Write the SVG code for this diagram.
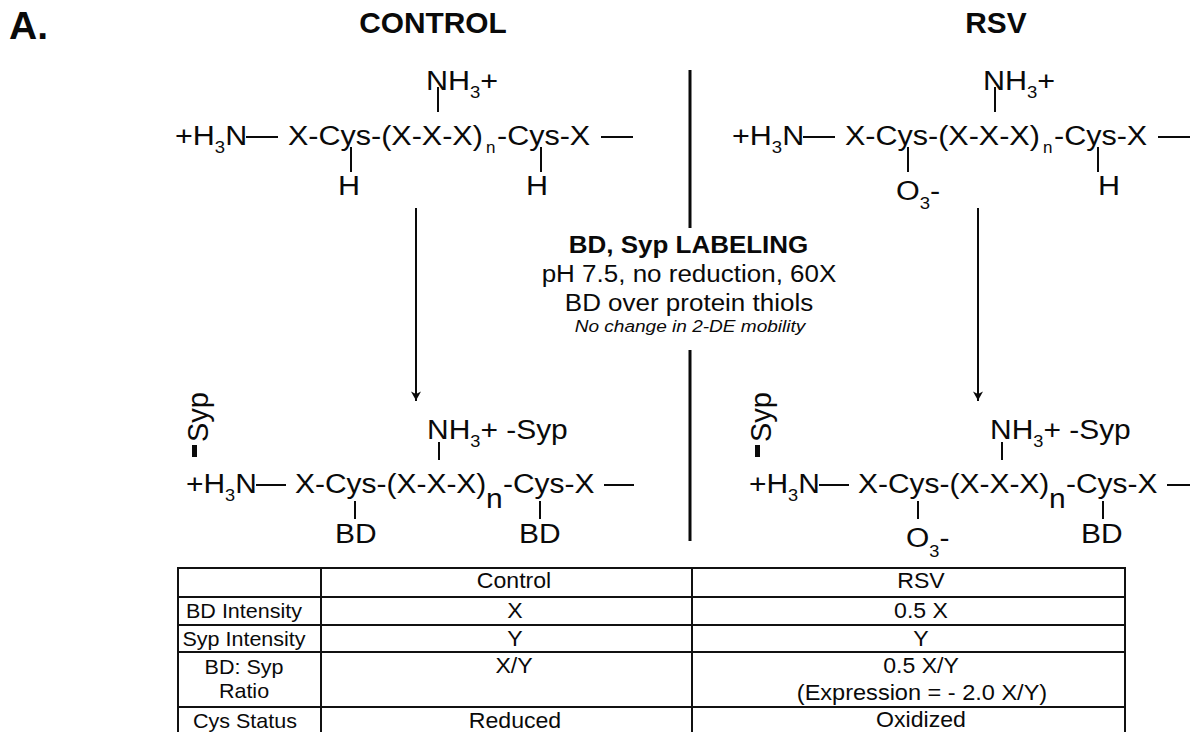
<svg xmlns="http://www.w3.org/2000/svg" width="1190" height="732" viewBox="0 0 1190 732">
<style>
text{font-family:"Liberation Sans",Arial,sans-serif;fill:#0a0a0a}
.f{font-size:28px}
.s{font-size:17px}
.h{font-size:29px;font-weight:bold;text-anchor:middle}
.c{text-anchor:middle;font-size:23px}
.t{font-size:20.5px;text-anchor:middle}
.u{font-size:22px;text-anchor:middle}
.l{stroke:#0a0a0a;stroke-width:2;fill:none}
.v{stroke:#0a0a0a;stroke-width:3;fill:none}
.g{stroke:#111;stroke-width:2;fill:none}
</style>
<defs>
<marker id="a" markerWidth="14" markerHeight="14" refX="11" refY="7" orient="auto" markerUnits="userSpaceOnUse"><path d="M1.500 2L10.500 7L1.500 12L4 7Z" fill="#0a0a0a"/></marker>
<g id="top">
<text class="f" transform="translate(175 145) scale(1.09 1)">+H<tspan class="s" dy="8">3</tspan><tspan dy="-8">N</tspan></text>
<path class="l" d="M246 137H278M601 137H633M351 147V172M541 147V172M438 87V112"/>
<text class="f" transform="translate(288 145) scale(1.09 1)">X-Cys-(X-X-X)</text>
<text class="s" x="486" y="153">n</text>
<text class="f" transform="translate(497 145) scale(1.09 1)">-Cys-X</text>
<text class="f" transform="translate(426 90) scale(1.09 1)">NH<tspan class="s" dy="8">3</tspan><tspan dy="-8">+</tspan></text>
</g>
<g id="bot">
<text class="f" transform="translate(186 493) scale(1.07 1)">+H<tspan class="s" dy="8">3</tspan><tspan dy="-8">N</tspan></text>
<path class="l" d="M256 485H286M604 485H634M355 501V519M540 501V519M439 442V460"/>
<text class="f" transform="translate(295 493) scale(1.07 1)">X-Cys-(X-X-X)</text>
<text class="f" transform="translate(486 508) scale(1.07 1)">n</text>
<text class="f" transform="translate(503 493) scale(1.07 1)">-Cys-X</text>
<text class="f" transform="translate(427 439) scale(1.07 1)">NH<tspan class="s" dy="8">3</tspan><tspan dy="-8">+ -Syp</tspan></text>
<rect x="192" y="445" width="5" height="12" fill="#0a0a0a"/>
<text class="f" font-size="29" style="font-size:29px" transform="translate(208 442) rotate(-90)">Syp</text>
</g>
</defs>
<g id="panel-label"><text x="9" y="39" font-size="39" font-weight="bold">A.</text></g>
<g id="titles">
<text class="h" transform="translate(433 33) scale(1.03 1)">CONTROL</text>
<text class="h" transform="translate(996 33) scale(1.03 1)">RSV</text>
</g>
<g id="connectors">
<path class="l" d="M416 208V401" marker-end="url(#a)"/>
<path class="l" d="M978 208V401" marker-end="url(#a)"/>
<path class="v" d="M690 70V228M690 350V541"/>
</g>
<g id="control-top"><use href="#top"/>
<text class="f" transform="translate(338 195) scale(1.09 1)">H</text><text class="f" transform="translate(526 195) scale(1.09 1)">H</text></g>
<g id="rsv-top"><use href="#top" x="557"/>
<text class="f" transform="translate(896 200) scale(1.09 1)">O<tspan class="s" dy="9">3</tspan><tspan dy="-9">-</tspan></text><text class="f" transform="translate(1098 195) scale(1.09 1)">H</text></g>
<g id="center">
<text class="c" font-weight="bold" transform="translate(688.500 253) scale(1.13 1)">BD, Syp LABELING</text>
<text class="c" transform="translate(689 282) scale(1.13 1)">pH 7.5, no reduction, 60X</text>
<text class="c" transform="translate(689 311) scale(1.13 1)">BD over protein thiols</text>
<text class="c" font-style="italic" style="font-size:16px" transform="translate(690 332) scale(1.19 1)">No change in 2-DE mobility</text>
</g>
<g id="control-bottom"><use href="#bot"/>
<text class="f" transform="translate(335 543) scale(1.07 1)">BD</text><text class="f" transform="translate(519 543) scale(1.07 1)">BD</text></g>
<g id="rsv-bottom"><use href="#bot" x="563"/>
<text class="f" transform="translate(906 547) scale(1.07 1)">O<tspan class="s" dy="10">3</tspan><tspan dy="-10">-</tspan></text><text class="f" transform="translate(1081 543) scale(1.07 1)">BD</text></g>
<g id="table">
<path class="g" d="M178 568H1125M178 597H1125M178 625H1125M178 652H1125M178 707H1125M178 567V732M321 567V732M692 567V732M1125 567V732"/>
<text class="u" transform="translate(514 588) scale(1.05 1)">Control</text><text class="u" transform="translate(921 588) scale(1.05 1)">RSV</text>
<text class="t" transform="translate(244 618) scale(1.05 1)">BD Intensity</text><text class="u" transform="translate(515 618) scale(1.05 1)">X</text><text class="u" transform="translate(921 618) scale(1.05 1)">0.5 X</text>
<text class="t" transform="translate(244 646) scale(1.05 1)">Syp Intensity</text><text class="u" transform="translate(515 646) scale(1.05 1)">Y</text><text class="u" transform="translate(921 646) scale(1.05 1)">Y</text>
<text class="t" transform="translate(244 674) scale(1.05 1)">BD: Syp</text><text class="u" transform="translate(514 673) scale(1.05 1)">X/Y</text><text class="u" transform="translate(921 673) scale(1.05 1)">0.5 X/Y</text>
<text class="t" transform="translate(244 698) scale(1.05 1)">Ratio</text><text class="u" transform="translate(922 700) scale(1.07 1)">(Expression = - 2.0 X/Y)</text>
<text class="t" transform="translate(245 728) scale(1.05 1)">Cys Status</text><text class="u" transform="translate(515 728) scale(1.05 1)">Reduced</text><text class="u" transform="translate(921 727) scale(1.05 1)">Oxidized</text>
</g>
</svg>
